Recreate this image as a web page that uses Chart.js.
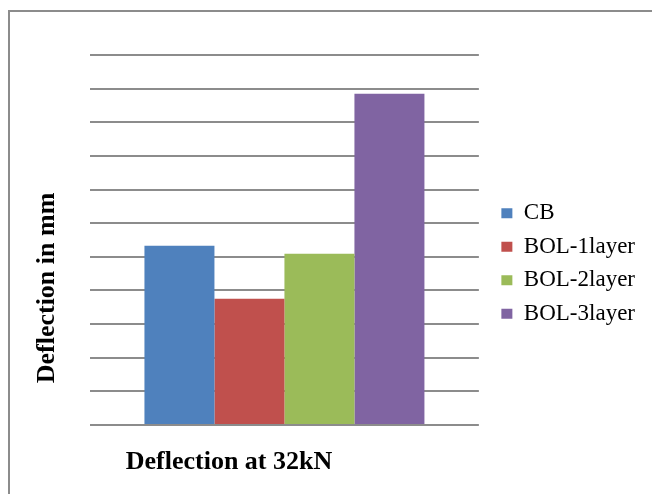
<!DOCTYPE html>
<html>
<head>
<meta charset="utf-8">
<script src="https://cdn.jsdelivr.net/npm/chart.js@4/dist/chart.umd.min.js"></script>
<style>
  html, body { margin: 0; padding: 0; background: #fff; overflow: hidden; }
  #frame { position: absolute; left: 8px; top: 10px; width: 700px; height: 600px;
           border: 2px solid #8c8c8c; box-sizing: border-box; }
  #wrap { position: absolute; left: 0; top: 0; width: 652px; height: 494px; }
</style>
</head>
<body>
<div id="frame"></div>
<div id="wrap"><canvas id="chart_d" width="652" height="494"></canvas></div>
<script>
var category = ['Deflection at 32kN'];
var seriesNames = ['CB', 'BOL-1layer', 'BOL-2layer', 'BOL-3layer'];
var cb = [5.33];
var bol1 = [3.75];
var bol2 = [5.09];
var bol3 = [9.85];
var colors = ['#4f81bd', '#c0504d', '#9bbb59', '#8064a2'];

var serif = '"Liberation Serif", "Times New Roman", serif';

// axis titles sit off-centre in the original, so draw them by hand
var titlesPlugin = {
    id: 'titles',
    afterDraw: function(chart){
        var ctx = chart.ctx;
        ctx.save();
        ctx.fillStyle = '#000';
        ctx.font = 'bold 26px ' + serif;
        ctx.textAlign = 'center';
        ctx.textBaseline = 'middle';
        ctx.fillText('Deflection at 32kN', 229, 462);
        ctx.translate(47, 288);
        ctx.rotate(-Math.PI / 2);
        ctx.fillText('Deflection in mm', 0, 0);
        ctx.restore();
    }
};

var vals = [cb, bol1, bol2, bol3];
var data_d = {
    labels : category,
    datasets : seriesNames.map(function(name, i){
        return {
            label : name,
            data : vals[i],
            backgroundColor : colors[i],
            borderWidth : 0,
            barPercentage : 1,
            categoryPercentage : 0.72
        };
    })
};

var dChart = new Chart(document.getElementById('chart_d'), {
    type: 'bar',
    data: data_d,
    plugins: [titlesPlugin],
    options: {
        responsive: false,
        animation: false,
        devicePixelRatio: 1,
        layout: { padding: { left: 90, top: 55, right: 7, bottom: 69 } },
        plugins: {
            tooltip: { enabled: false },
            legend: {
                position: 'right',
                maxWidth: 200,
                title: { display: true, text: ' ', font: { size: 1 }, padding: { top: 23, bottom: 23 } },
                labels: {
                    boxWidth: 11,
                    boxHeight: 10,
                    padding: 10.5,
                    color: '#000',
                    font: { family: serif, size: 23 }
                }
            }
        },
        scales: {
            x: {
                grid: { display: false, drawTicks: false },
                border: { display: false },
                ticks: { display: false }
            },
            y: {
                min: 0,
                max: 11,
                grid: { color: '#8c8c8c', lineWidth: 2, drawTicks: false },
                border: { display: false },
                ticks: { display: false, stepSize: 1 }
            },
            // empty right axis, only keeps a gap before the legend
            gap: {
                type: 'linear',
                position: 'right',
                grid: { display: false, drawTicks: false },
                border: { display: false },
                ticks: { display: false },
                afterFit: function(s){ s.width = 12; }
            }
        }
    }
});
</script>
</body>
</html>
